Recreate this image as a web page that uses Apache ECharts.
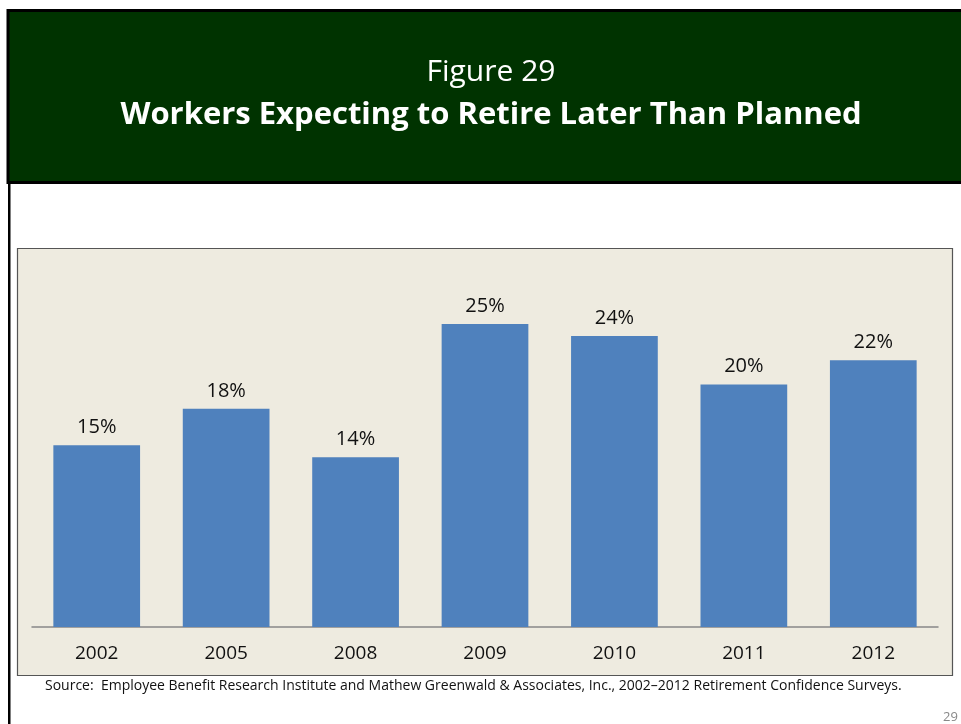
<!DOCTYPE html>
<html>
<head>
<meta charset="utf-8">
<script src="https://cdn.jsdelivr.net/npm/echarts@6/dist/echarts.min.js"></script>
<style>
  html, body { margin: 0; padding: 0; background: #ffffff; }
  #chart { width: 961px; height: 724px; }
</style>
</head>
<body>
<div id="chart"></div>
<script>
// Survey years and share of workers expecting to retire later than planned (%)
var years = ['2002', '2005', '2008', '2009', '2010', '2011', '2012'];
var sharePct = [15, 18, 14, 25, 24, 20, 22];

var FONT = '"Open Sans", "Noto Sans", sans-serif';

var chart = echarts.init(document.getElementById('chart'), null, { renderer: 'canvas' });

chart.setOption({
  backgroundColor: '#ffffff',
  animation: false,
  graphic: [
    // slide frame: left rule
    { type: 'rect', z: 0, shape: { x: 8, y: 10, width: 2.5, height: 720 }, style: { fill: '#000000' } },
    // header band
    { type: 'rect', z: 0, shape: { x: 8, y: 10.5, width: 960, height: 172 },
      style: { fill: '#003300', stroke: '#000000', lineWidth: 3 } },
    // header titles, centred on the header band
    { type: 'text', z: 5, x: 491, y: 72,
      style: { text: 'Figure 29', fill: '#ffffff', font: '30px ' + FONT,
               textAlign: 'center', textVerticalAlign: 'middle' } },
    { type: 'text', z: 5, x: 491, y: 115,
      style: { text: 'Workers Expecting to Retire Later Than Planned', fill: '#ffffff',
               font: 'bold 31px ' + FONT, textAlign: 'center', textVerticalAlign: 'middle' } },
    // chart panel
    { type: 'rect', z: 0, shape: { x: 17.5, y: 248.5, width: 935, height: 427 },
      style: { fill: '#EEEBE0', stroke: '#555555', lineWidth: 1.2 } },
    // source note
    { type: 'text', z: 5, left: 45, top: 679,
      style: { text: 'Source:  Employee Benefit Research Institute and Mathew Greenwald & Associates, Inc., 2002\u20132012 Retirement Confidence Surveys.',
               fill: '#111111', font: '14px ' + FONT } },
    // page number
    { type: 'text', z: 5, left: 943, top: 711,
      style: { text: '29', fill: '#888888', font: '13px ' + FONT } }
  ],
  grid: { left: 32, right: 23, top: 263.4, bottom: 97, containLabel: false },
  xAxis: {
    type: 'category',
    data: years,
    axisLine: { show: true, lineStyle: { color: '#888888', width: 1.5 } },
    axisTick: { show: false },
    axisLabel: { color: '#111111', fontFamily: FONT, fontSize: 19, margin: 17 }
  },
  yAxis: {
    type: 'value',
    min: 0, max: 30,
    show: false,
    splitLine: { show: false }
  },
  series: [{
    type: 'bar',
    data: sharePct,
    barCategoryGap: '33%',
    itemStyle: { color: '#4F81BD' },
    label: {
      show: true,
      position: 'top',
      distance: 8,
      formatter: '{c}%',
      color: '#111111',
      fontFamily: FONT,
      fontSize: 20
    }
  }]
});
</script>
</body>
</html>
